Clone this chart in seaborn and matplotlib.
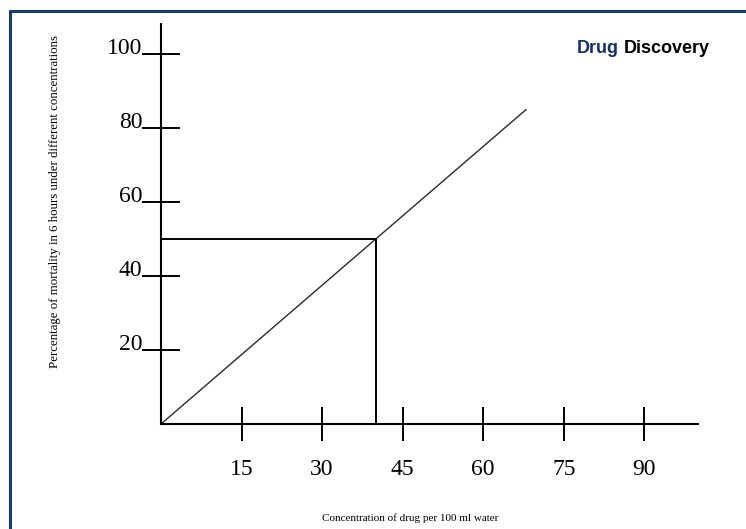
import matplotlib
matplotlib.use('Agg')
import matplotlib.pyplot as plt
import seaborn as sns
import pandas as pd
from matplotlib.lines import Line2D

# values
conc = [0, 68]            # concentration of drug per 100 ml water
mortality = [0, 85]       # percentage of mortality in 6 hours
read_conc = [0, 40, 40]   # reading lines for 50 % mortality
read_mort = [50, 50, 0]
x_ticks = [15, 30, 45, 60, 75, 90]
y_ticks = [20, 40, 60, 80, 100]

sns.set_theme(style='white')
plt.rcParams['font.family'] = ['Liberation Serif', 'DejaVu Serif']

W, H = 746, 529
fig = plt.figure(figsize=(W / 100, H / 100), dpi=100)
ax = fig.add_axes([161 / W, 105 / H, 537 / W, 400 / H])

df = pd.DataFrame({'conc': conc, 'mortality': mortality})
sns.lineplot(data=df, x='conc', y='mortality', ax=ax, color='#2a2a2a', linewidth=1.0)
sns.lineplot(x=read_conc, y=read_mort, ax=ax, color='black', linewidth=1.4,
             estimator=None, sort=False)

ax.set_xlim(0, 100)
ax.set_ylim(0, 108.1)
for side in ['top', 'right']:
    ax.spines[side].set_visible(False)
for side in ['left', 'bottom']:
    ax.spines[side].set_color('black')
    ax.spines[side].set_linewidth(1.5)

ax.set_xticks(x_ticks, [str(v) for v in x_ticks])
ax.set_yticks(y_ticks, [str(v) for v in y_ticks])
ax.tick_params(axis='x', bottom=True, direction='inout', length=24, width=1.4,
               pad=13, labelsize=17, colors='black')
ax.tick_params(axis='y', left=True, direction='inout', length=27, width=1.4,
               pad=0, labelsize=17, colors='black')
for lbl in ax.get_yticklabels():
    lbl.set_va('baseline')

ax.set_xlabel('Concentration of drug per 100 ml water', fontsize=8, color='black')
ax.set_ylabel('Percentage of mortality in 6 hours under different concentrations',
              fontsize=9.3, color='black')
ax.xaxis.set_label_coords((410 - 161) / 537, (424 - 518) / 400)
ax.xaxis.label.set_va('center')
ax.yaxis.set_label_coords((55 - 161) / 537, (424 - 201) / 400)
ax.yaxis.label.set_va('center')

# frame (only top and left edges are visible in the picture)
border = '#1c3b7c'
fig.add_artist(Line2D([10 / W, 1], [1 - 11 / H, 1 - 11 / H], transform=fig.transFigure,
                      color=border, linewidth=2.2))
fig.add_artist(Line2D([10 / W, 10 / W], [0, 1 - 11 / H], transform=fig.transFigure,
                      color=border, linewidth=2.2))

t1 = fig.text(577 / W, 1 - 53 / H, 'Drug', family='Liberation Sans', weight='bold',
              fontsize=13, color='#13306e', va='baseline', ha='left')
ax.annotate('Discovery', xy=(1, 0), xycoords=t1, xytext=(3.5, 0), textcoords='offset points',
            family='Liberation Sans', weight='bold', fontsize=13, color='black',
            va='bottom', ha='left')

fig.savefig('out.png', dpi=100, facecolor='white')
